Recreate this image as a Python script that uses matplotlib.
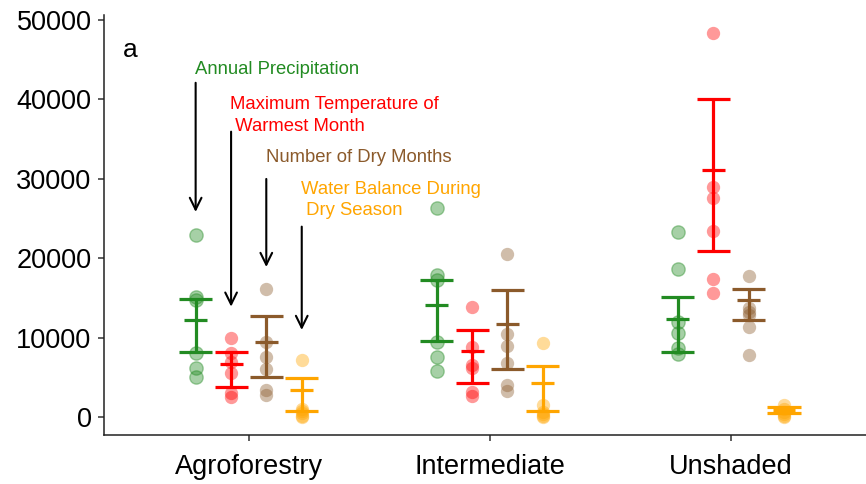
import matplotlib
matplotlib.use("Agg")
import matplotlib.pyplot as plt
import numpy as np

plt.rcParams['font.family'] = ['Liberation Sans', 'DejaVu Sans']

categories = ["Agroforestry", "Intermediate", "Unshaded"]
variables = ["Annual Precipitation",
             "Maximum Temperature of\n Warmest Month",
             "Number of Dry Months",
             "Water Balance During\n Dry Season"]
colors = ["#228B22", "#FF0000", "#8B5A2B", "#FFA500"]

# raw points: points[variable][category]
points = {
    "Annual Precipitation": [
        [22970, 15180, 14760, 8050, 6170, 5110],
        [26300, 17910, 17280, 9510, 7630, 5830],
        [23360, 18660, 12030, 10570, 8680, 7930],
    ],
    "Maximum Temperature of\n Warmest Month": [
        [10020, 8050, 7000, 5610, 3020, 2590],
        [13920, 8890, 6600, 6200, 3220, 2680],
        [48400, 29020, 27640, 23480, 17370, 15680],
    ],
    "Number of Dry Months": [
        [16150, 9510, 7630, 6040, 3440, 2810],
        [20550, 10480, 9010, 6870, 4060, 3310],
        [17820, 13790, 13250, 12870, 11400, 7800],
    ],
    "Water Balance During\n Dry Season": [
        [7210, 1100, 800, 500, 200, 100],
        [9390, 1550, 710, 400, 160, 40],
        [1500, 1000, 700, 400, 200, 100],
    ],
}
# summary (centre, lower, upper) per variable per category
centre = {
    "Annual Precipitation": [12250, 14130, 12330],
    "Maximum Temperature of\n Warmest Month": [6710, 8310, 31080],
    "Number of Dry Months": [9510, 11700, 14760],
    "Water Balance During\n Dry Season": [3440, 4280, 920],
}
lower = {
    "Annual Precipitation": [8260, 9600, 8260],
    "Maximum Temperature of\n Warmest Month": [3850, 4350, 20970],
    "Number of Dry Months": [5110, 6120, 12250],
    "Water Balance During\n Dry Season": [790, 790, 500],
}
upper = {
    "Annual Precipitation": [14850, 17280, 15180],
    "Maximum Temperature of\n Warmest Month": [8180, 10990, 40060],
    "Number of Dry Months": [12750, 16020, 16110],
    "Water Balance During\n Dry Season": [4980, 6490, 1360],
}
# annotation arrows (start, tip) and label positions
arrow_start = [42090, 35940, 29990, 23990]
arrow_tip = [25840, 13920, 18910, 10990]
label_y = [43710, 37990, 32630, 27350]

offsets = [-0.22, -0.073, 0.073, 0.22]
cap_w = 0.137
mean_w = 0.095

fig = plt.figure(figsize=(8.66, 4.84), dpi=100)
ax = fig.add_axes([0.1201, 0.1012, 0.8799, 0.868])

xc = np.arange(1, len(categories) + 1)
for vi, var in enumerate(variables):
    col = colors[vi]
    xs = xc + offsets[vi]
    for ci in range(len(categories)):
        ys = points[var][ci]
        ax.scatter([xs[ci]] * len(ys), ys, s=92, color=col, alpha=0.4,
                   linewidths=1.0 if vi == 0 else 0, edgecolors=col, zorder=2)
    c = np.array(centre[var]); lo = np.array(lower[var]); hi = np.array(upper[var])
    ax.vlines(xs, lo, hi, color=col, lw=2.3, zorder=3)
    ax.hlines(lo, xs - cap_w / 2, xs + cap_w / 2, color=col, lw=2.3, zorder=3)
    ax.hlines(hi, xs - cap_w / 2, xs + cap_w / 2, color=col, lw=2.3, zorder=3)
    ax.hlines(c, xs - mean_w / 2, xs + mean_w / 2, color=col, lw=2.3, zorder=3)

    ax0 = 1 + offsets[vi]
    ax.annotate("", xy=(ax0, arrow_tip[vi]), xytext=(ax0, arrow_start[vi]),
                arrowprops=dict(arrowstyle="->,head_length=0.85,head_width=0.42",
                                color="black", lw=1.5, shrinkA=0, shrinkB=0),
                zorder=4)
    ax.text(ax0 - 0.003, label_y[vi], var, color=col, fontsize=13.3,
            ha="left", va="center", linespacing=1.33, zorder=5)

ax.text(0.477, 46230, "a", fontsize=19, ha="left", va="center")

ax.set_xlim(0.4, 3.56)
ax.set_ylim(-2228, 50630)
ax.set_xticks(xc)
ax.set_xticklabels(categories)
ax.set_yticks([0, 10000, 20000, 30000, 40000, 50000])
ax.set_yticklabels(["0", "10000", "20000", "30000", "40000", "50000"])
for s in ["top", "right"]:
    ax.spines[s].set_visible(False)
for s in ["left", "bottom"]:
    ax.spines[s].set_color("#222222")
    ax.spines[s].set_linewidth(1.1)
ax.tick_params(axis="both", length=4, width=1.1, color="#333333",
               labelsize=19.5, labelcolor="black")
ax.tick_params(axis="x", pad=10)
ax.tick_params(axis="y", pad=5)

fig.savefig("out.png", dpi=100)
